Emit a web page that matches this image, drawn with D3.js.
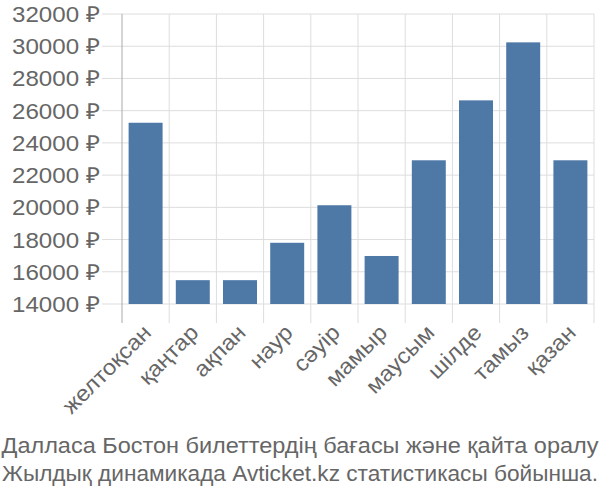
<!DOCTYPE html>
<html>
<head>
<meta charset="utf-8">
<script src="https://cdn.jsdelivr.net/npm/d3@7"></script>
<style>
body { margin: 0; background: #fff; }
text { font-family: "Liberation Sans", Arial, sans-serif; fill: #666; }
</style>
</head>
<body>
<script>
// months and average ticket prices (rub)
var months = ["желтоқсан", "қаңтар", "ақпан", "наур", "сәуір", "мамыр", "маусым", "шілде", "тамыз", "қазан"];
var prices = [25250, 15480, 15480, 17800, 20130, 16980, 22920, 26640, 30240, 22920];
var yTicks = [14000, 16000, 18000, 20000, 22000, 24000, 26000, 28000, 30000, 32000];
var titleLines = ["Далласа Бостон билеттердің бағасы және қайта оралу", "Жылдық динамикада Avticket.kz статистикасы бойынша."];

var width = 600, height = 500;
var plotL = 122, plotR = 594, plotT = 14, plotB = 304;

var svg = d3.select("body").append("svg")
	.attr("width", width)
	.attr("height", height);

var x = d3.scaleBand().domain(months).range([plotL, plotR]).paddingInner(0.28).paddingOuter(0.14);
var y = d3.scaleLinear().domain([14000, 32000]).range([plotB, plotT]);

// stretch text a bit wider, the source font runs wide
function widen(sel, k){
	sel.each(function(){
		var w = this.getComputedTextLength();
		d3.select(this).attr("textLength", w * k).attr("lengthAdjust", "spacingAndGlyphs");
	});
}

// horizontal grid + tick marks
svg.append("g").selectAll("line").data(yTicks).enter().append("line")
	.attr("x1", plotL - 20).attr("x2", plotR)
	.attr("y1", function(d){ return y(d); }).attr("y2", function(d){ return y(d); })
	.attr("stroke", "#ddd").attr("stroke-width", 1);

// vertical grid
var step = x.step();
var vlines = d3.range(months.length + 1).map(function(i){ return plotL + i * step; });
svg.append("g").selectAll("line").data(vlines).enter().append("line")
	.attr("x1", function(d){ return d; }).attr("x2", function(d){ return d; })
	.attr("y1", plotT).attr("y2", plotB + 19)
	.attr("stroke", function(d, i){ return i == 0 ? "#aaa" : "#ddd"; })
	.attr("stroke-width", 1);

// bars
svg.append("g").selectAll("rect").data(prices).enter().append("rect")
	.attr("x", function(d, i){ return x(months[i]); })
	.attr("width", x.bandwidth())
	.attr("y", function(d){ return y(d); })
	.attr("height", function(d){ return y(14000) - y(d); })
	.attr("fill", "#4e79a7");

// y labels
var yl = svg.append("g").selectAll("text").data(yTicks).enter().append("text")
	.attr("x", plotL - 22)
	.attr("y", function(d){ return y(d) + 8; })
	.attr("text-anchor", "end")
	.style("font-size", "22px")
	.text(function(d){ return d + " ₽"; });
yl.each(function(){
	d3.select(this).attr("textLength", 88).attr("lengthAdjust", "spacingAndGlyphs");
});

// x labels
var xl = svg.append("g").selectAll("text").data(months).enter().append("text")
	.attr("transform", function(d){
		var cx = x(d) + x.bandwidth() / 2 + 7;
		return "translate(" + cx + "," + (plotB + 30) + ") rotate(-45)";
	})
	.attr("text-anchor", "end")
	.style("font-size", "22px")
	.text(function(d){ return d; });
widen(xl, 1.08);

// caption
var cap = svg.append("g").selectAll("text").data(titleLines).enter().append("text")
	.attr("x", width / 2)
	.attr("y", function(d, i){ return 453 + i * 28; })
	.attr("text-anchor", "middle")
	.style("font-size", "22px")
	.text(function(d){ return d; });
cap.each(function(d, i){
	d3.select(this).attr("textLength", i == 0 ? 597 : 596).attr("lengthAdjust", "spacingAndGlyphs");
});
</script>
</body>
</html>
